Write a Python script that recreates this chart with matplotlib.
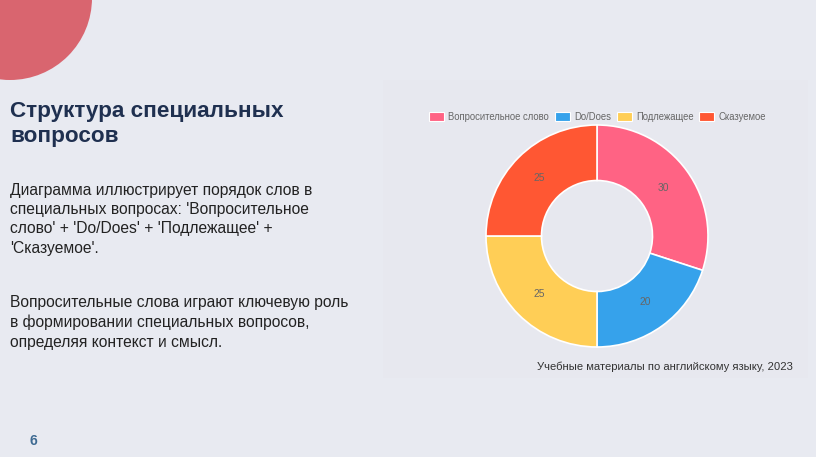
import matplotlib
matplotlib.use("Agg")
import matplotlib.pyplot as plt
from matplotlib import font_manager as fm
from matplotlib.patches import Circle, Rectangle, Patch

plt.rcParams['font.family'] = ['Liberation Sans', 'DejaVu Sans']

categories = ['Вопросительное слово', 'Do/Does', 'Подлежащее', 'Сказуемое']
values = [30, 20, 25, 25]
colors = ['#FF6384', '#36A2EB', '#FFCE56', '#FF5733']

title_lines = ['Структура специальных', 'вопросов']
para1_lines = ["Диаграмма иллюстрирует порядок слов в",
               "специальных вопросах: 'Вопросительное",
               "слово' + 'Do/Does' + 'Подлежащее' +",
               "'Сказуемое'."]
para2_lines = ["Вопросительные слова играют ключевую роль",
               "в формировании специальных вопросов,",
               "определяя контекст и смысл."]
caption = 'Учебные материалы по английскому языку, 2023'
page = '6'


def find_font(filename):
    for f in fm.fontManager.ttflist:
        if f.fname.endswith(filename):
            return f.fname
    return None


reg_path = find_font('LiberationSans-Regular.ttf')
bold_path = find_font('LiberationSans-Bold.ttf')


def fp(bold=False):
    path = bold_path if bold else reg_path
    if path:
        return fm.FontProperties(fname=path)
    return fm.FontProperties(family='Liberation Sans', weight='bold' if bold else 'normal')


W, H = 816, 457
fig = plt.figure(figsize=(W / 100, H / 100), dpi=100)
fig.patch.set_facecolor('#e8eaf1')
renderer = fig.canvas.get_renderer()

bg = fig.add_axes([0, 0, 1, 1])
bg.set_xlim(0, W)
bg.set_ylim(H, 0)
bg.axis('off')
bg.add_patch(Rectangle((383, 80), 425, 298, facecolor='#e7e8ef', edgecolor='none', zorder=0))
bg.add_patch(Circle((10, -2), 82, facecolor='#d9656f', edgecolor='none', zorder=1))


def fit_size(text, target_px, bold=False, start=10.0):
    t = fig.text(0, 0, text, fontproperties=fp(bold), fontsize=start)
    w = t.get_window_extent(renderer).width
    t.remove()
    return start * target_px / w


def draw_block(lines, x, baselines, size, color, bold=False):
    for line, yb in zip(lines, baselines):
        bg.text(x, yb, line, fontproperties=fp(bold), fontsize=size, color=color,
                va='baseline', ha='left')


title_fs = fit_size(title_lines[0], 273, bold=True)
draw_block(title_lines, 10, [117, 142], title_fs, '#1f3050', bold=True)

body_fs = fit_size(para2_lines[0], 341)
draw_block(para1_lines, 10, [194.5, 214, 233.5, 253], body_fs, '#222222')
draw_block(para2_lines, 10, [307.5, 327, 346.5], body_fs, '#222222')

cap_fs = fit_size(caption, 258)
bg.text(793, 370, caption, fontproperties=fp(), fontsize=cap_fs, color='#333333',
        va='baseline', ha='right')
bg.text(33, 445, page, fontproperties=fp(True), fontsize=10, color='#3d6a92',
        va='baseline', ha='center')

# donut
cx, cy, r = 597, 236, 111
ax = fig.add_axes([(cx - r) / W, 1 - (cy + r) / H, 2 * r / W, 2 * r / H])
ax.set_facecolor('none')
lab_fs = fit_size('25', 11.5)
wedges, texts, autotexts = ax.pie(
    values, colors=colors, startangle=90, counterclock=False, radius=1,
    autopct=lambda p: f'{p * sum(values) / 100:.0f}', pctdistance=0.74,
    wedgeprops=dict(width=0.5, edgecolor='white', linewidth=1.2),
    textprops=dict(color='#666666', fontproperties=fp(), fontsize=lab_fs))
for t in autotexts:
    t.set_fontsize(lab_fs)
ax.set_xlim(-1, 1)
ax.set_ylim(-1, 1)
ax.set_aspect('equal')
ax.axis('off')

leg_fs = fit_size(categories[0], 102)
px = leg_fs * 100 / 72
handles = [Patch(facecolor=c, edgecolor='white', linewidth=0.8) for c in colors]
leg_prop = fp()
leg_prop.set_size(leg_fs)
fig.legend(handles, categories, loc='center', bbox_to_anchor=(597.5 / W, 1 - 117 / H),
           ncol=4, frameon=False, prop=leg_prop, handlelength=15 / px, handleheight=9.5 / px,
           handletextpad=4.5 / px, columnspacing=5.5 / px, labelcolor='#666666')

fig.savefig('out.png', dpi=100, facecolor=fig.get_facecolor())
